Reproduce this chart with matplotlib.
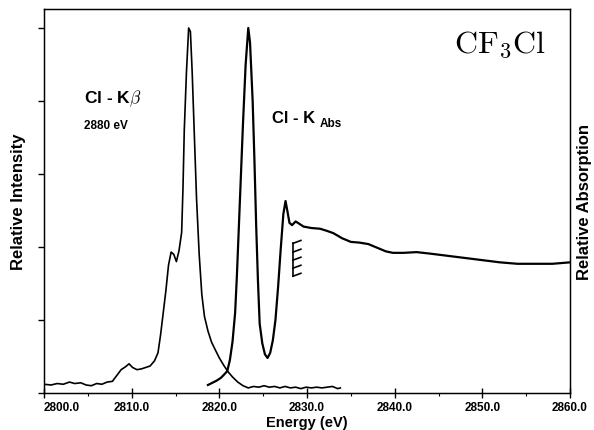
import numpy as np
import matplotlib
matplotlib.use('Agg')
import matplotlib.pyplot as plt

plt.rcParams['font.family'] = ['Liberation Sans', 'DejaVu Sans']
plt.rcParams['mathtext.fontset'] = 'cm'

# Cl K-beta emission spectrum (energy in eV, relative intensity)
emis_e = [2800.0, 2800.8, 2801.5, 2802.2, 2802.9, 2803.5, 2804.2, 2804.8, 2805.4, 2806.0,
          2806.6, 2807.2, 2807.8, 2808.3, 2808.8, 2809.3, 2809.7, 2810.1, 2810.6, 2811.1,
          2811.6, 2812.1, 2812.6, 2813.0, 2813.3, 2813.6, 2813.9, 2814.2, 2814.5, 2814.8,
          2815.1, 2815.4, 2815.7, 2815.85, 2816.0, 2816.25, 2816.5, 2816.7, 2816.9, 2817.1,
          2817.4, 2817.7, 2818.0, 2818.3, 2818.7, 2819.1, 2819.5, 2820.0, 2820.5, 2821.0,
          2821.5, 2822.1, 2822.7, 2823.3, 2823.9, 2824.5, 2825.1, 2825.7, 2826.3, 2826.9,
          2827.5, 2828.1, 2828.7, 2829.3, 2829.9, 2830.5, 2831.1, 2831.7, 2832.3, 2832.9,
          2833.5, 2833.8]
emis_i = [0.12, 0.11, 0.13, 0.12, 0.15, 0.13, 0.14, 0.11, 0.10, 0.13,
          0.12, 0.15, 0.16, 0.24, 0.32, 0.36, 0.40, 0.35, 0.32, 0.33,
          0.35, 0.37, 0.44, 0.55, 0.80, 1.10, 1.40, 1.75, 1.93, 1.90,
          1.80, 1.95, 2.20, 2.80, 3.60, 4.40, 5.00, 4.95, 4.40, 3.70,
          2.66, 1.90, 1.35, 1.05, 0.85, 0.70, 0.60, 0.48, 0.38, 0.29,
          0.22, 0.15, 0.10, 0.07, 0.09, 0.08, 0.10, 0.08, 0.09, 0.07,
          0.09, 0.07, 0.08, 0.06, 0.08, 0.07, 0.08, 0.07, 0.08, 0.09,
          0.06, 0.07]

# Cl K absorption spectrum
abs_e = [2818.7, 2819.2, 2819.7, 2820.2, 2820.6, 2820.9, 2821.2, 2821.5, 2821.8, 2822.0,
         2822.2, 2822.4, 2822.7, 2823.0, 2823.3, 2823.5, 2823.8, 2824.0, 2824.2, 2824.4,
         2824.6, 2824.9, 2825.2, 2825.5, 2825.8, 2826.1, 2826.4, 2826.7, 2827.0, 2827.3,
         2827.55, 2827.75, 2828.0, 2828.3, 2828.7, 2829.1, 2829.6, 2830.5, 2831.5, 2832.3,
         2833.0, 2834.0, 2835.0, 2836.0, 2837.0, 2838.0, 2839.0, 2839.8, 2841.0, 2842.5,
         2844.0, 2846.0, 2848.0, 2850.0, 2852.0, 2854.0, 2856.0, 2858.0, 2860.0]
abs_i = [0.11, 0.14, 0.17, 0.21, 0.26, 0.30, 0.45, 0.70, 1.10, 1.60,
         2.20, 2.80, 3.70, 4.50, 5.00, 4.80, 4.00, 3.20, 2.30, 1.55,
         0.95, 0.68, 0.53, 0.48, 0.55, 0.72, 1.00, 1.45, 1.97, 2.45,
         2.63, 2.50, 2.33, 2.30, 2.35, 2.32, 2.28, 2.26, 2.25, 2.22,
         2.19, 2.12, 2.07, 2.06, 2.04, 1.99, 1.94, 1.92, 1.92, 1.93,
         1.91, 1.88, 1.85, 1.82, 1.79, 1.77, 1.77, 1.77, 1.79]

# comb marker next to the edge
comb_x = 2828.4
comb_len = 0.9
comb_y = [2.05, 1.93, 1.82, 1.71, 1.60]

xticks = [2800, 2810, 2820, 2830, 2840, 2850, 2860]
xticklabels = ['2800.0', '2810.0', '2820.0', '2830.0', '2840.0', '2850.0', '2860.0']

fig = plt.figure(figsize=(5.94, 4.31), dpi=100)
ax = fig.add_axes([0.0741, 0.0858, 0.8855, 0.891])

ax.plot(emis_e, emis_i, color='black', lw=1.2)
ax.plot(abs_e, abs_i, color='black', lw=1.6)

ax.plot([comb_x, comb_x], [comb_y[-1], comb_y[0]], color='black', lw=1.2)
for yy in comb_y:
    ax.plot([comb_x, comb_x + comb_len], [yy, yy + 0.04], color='black', lw=1.2)

ax.set_xlim(2800, 2860)
ax.set_ylim(0, 5.26)
ax.set_xticks(xticks)
labels = ax.set_xticklabels(xticklabels, fontsize=8.5, fontweight='bold')
labels[0].set_ha('left')  # first label sits right of its tick, as in the scan
ax.set_xticks(np.arange(2805, 2860, 10), minor=True)
ax.set_yticks([0, 1, 2, 3, 4, 5])
ax.set_yticklabels([])
ax.tick_params(axis='x', which='major', direction='inout', length=7, width=1.0, pad=2)
ax.tick_params(axis='x', which='minor', direction='out', length=2.5, width=0.8)
ax.tick_params(axis='y', direction='out', length=4.5, width=1.0, left=True, right=True)
for s in ax.spines.values():
    s.set_linewidth(1.0)

ax.set_xlabel('Energy (eV)', fontsize=10.5, fontweight='bold')
ax.xaxis.set_label_coords(0.5, -0.056)
ax.set_ylabel('Relative Intensity', fontsize=12, fontweight='bold', labelpad=5)
ax2 = ax.twinx()
ax2.set_ylim(0, 5.26)
ax2.set_yticks([])
ax2.set_ylabel('Relative Absorption', fontsize=12, fontweight='bold', labelpad=5)

ax.text(2804.6, 4.05, r'Cl - K$\beta$', fontsize=12.5, fontweight='bold', va='center')
ax.text(2804.6, 3.67, '2880 eV', fontsize=8.5, fontweight='bold', va='center')
ax.text(2826.0, 3.78, 'Cl - K', fontsize=12, fontweight='bold', va='center')
ax.text(2831.5, 3.70, 'Abs', fontsize=8.5, fontweight='bold', va='center')
ax.text(2852.0, 4.78, r'$\mathrm{CF_3Cl}$', fontsize=23, ha='center', va='center')

plt.savefig('out.png', dpi=100)
